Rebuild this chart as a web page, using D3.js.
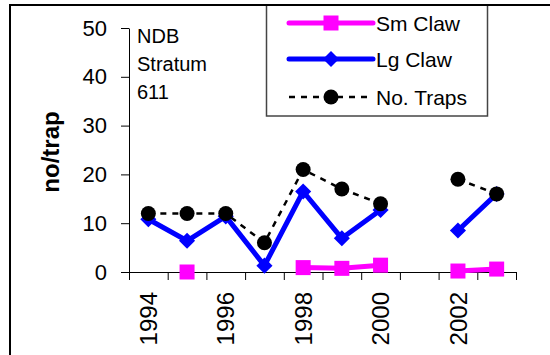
<!DOCTYPE html>
<html>
<head>
<meta charset="utf-8">
<script src="https://cdn.jsdelivr.net/npm/d3@7/dist/d3.min.js"></script>
<style>
  html, body { margin: 0; padding: 0; background: #fff; }
  svg { display: block; font-family: "Liberation Sans", Arial, sans-serif; }
</style>
</head>
<body>
<svg id="chart" width="550" height="355"></svg>
<script>
// Survey years and catch rates per trap (null = no survey that year)
const years    = [1994, 1995, 1996, 1997, 1998, 1999, 2000, 2001, 2002, 2003];
const smClaw   = [null, 0,    null, null, 0.9,  0.75, 1.4,  null, 0.2,  0.6];
const lgClaw   = [10.8, 6.4,  11.4, 1.3,  16.5, 6.9,  12.7, null, 8.5,  16];
const numTraps = [12,   12,   12,   6,    21,   17,   14,   null, 19,   16];
const yTicks   = [0, 10, 20, 30, 40, 50];
const xLabels  = [1994, 1996, 1998, 2000, 2002];
const seriesNames = ["Sm Claw", "Lg Claw", "No. Traps"];

const svg = d3.select("#chart");

const x = d3.scaleLinear().domain([years[0] - 0.5, years[years.length - 1] + 0.5]).range([129, 516]);
const y = d3.scaleLinear().domain([0, 50]).range([272, 28]);

// y axis
const yAxis = svg.append("g").attr("transform", "translate(129,0)")
  .call(d3.axisLeft(y).tickValues(yTicks).tickSize(8).tickPadding(14).tickSizeOuter(0));
yAxis.select(".domain").attr("stroke", "#000");
yAxis.selectAll("text").attr("font-size", 22).attr("font-family", "Liberation Sans, Arial, sans-serif");

// x axis: ticks on the year boundaries
const boundaries = d3.range(years[0] - 0.5, years[years.length - 1] + 1, 1);
const xAxis = svg.append("g").attr("transform", "translate(0,272)")
  .call(d3.axisBottom(x).tickValues(boundaries).tickFormat("").tickSize(8).tickSizeOuter(0));
xAxis.select(".domain").attr("stroke", "#000");

svg.append("g").selectAll("text").data(xLabels).join("text")
  .attr("transform", d => `translate(${x(d)},292) rotate(-90)`)
  .attr("text-anchor", "end").attr("dy", "0.36em")
  .attr("font-size", 24).text(d => d);

// y axis title
svg.append("text")
  .attr("transform", "translate(50,152) rotate(-90)")
  .attr("text-anchor", "middle").attr("dy", "0.36em")
  .attr("font-size", 24).attr("font-weight", "bold").text("no/trap");

// stratum note
svg.append("g").selectAll("text").data(["NDB", "Stratum", "611"]).join("text")
  .attr("x", 137).attr("y", (d, i) => 43 + i * 28)
  .attr("font-size", 20).text(d => d);

const line = vals => d3.line()
  .defined((d, i) => vals[i] !== null)
  .x((d, i) => x(years[i]))
  .y((d, i) => y(vals[i]))(vals);
const pts = vals => years.map((yr, i) => ({ yr, v: vals[i] })).filter(d => d.v !== null);

const diamond = d3.symbol().type(d3.symbolDiamond2).size(165);

// Sm Claw
svg.append("path").attr("d", line(smClaw))
  .attr("fill", "none").attr("stroke", "#ff00ff").attr("stroke-width", 5);
svg.append("g").selectAll("rect").data(pts(smClaw)).join("rect")
  .attr("x", d => x(d.yr) - 7.5).attr("y", d => y(d.v) - 7.5)
  .attr("width", 15).attr("height", 15).attr("fill", "#ff00ff");

// Lg Claw
svg.append("path").attr("d", line(lgClaw))
  .attr("fill", "none").attr("stroke", "#0000ff").attr("stroke-width", 5).attr("stroke-linejoin", "round");
svg.append("g").selectAll("path").data(pts(lgClaw)).join("path")
  .attr("transform", d => `translate(${x(d.yr)},${y(d.v)})`)
  .attr("d", diamond).attr("fill", "#0000ff");

// No. Traps
svg.append("path").attr("d", line(numTraps))
  .attr("fill", "none").attr("stroke", "#000").attr("stroke-width", 2.5).attr("stroke-dasharray", "6,6");
svg.append("g").selectAll("circle").data(pts(numTraps)).join("circle")
  .attr("cx", d => x(d.yr)).attr("cy", d => y(d.v)).attr("r", 7.5).attr("fill", "#000");

// legend
const lg = svg.append("g");
lg.append("rect").attr("x", 266.5).attr("y", 5).attr("width", 221).attr("height", 111)
  .attr("fill", "#fff").attr("stroke", "#444").attr("stroke-width", 1.5);
const rowY = [23, 59, 97];
const lx0 = 289, lx1 = 373, lmx = 331;
lg.append("line").attr("x1", lx0).attr("x2", lx1).attr("y1", rowY[0]).attr("y2", rowY[0])
  .attr("stroke", "#ff00ff").attr("stroke-width", 5).attr("stroke-linecap", "round");
lg.append("rect").attr("x", lmx - 7.5).attr("y", rowY[0] - 7.5).attr("width", 15).attr("height", 15).attr("fill", "#ff00ff");
lg.append("line").attr("x1", lx0).attr("x2", lx1).attr("y1", rowY[1]).attr("y2", rowY[1])
  .attr("stroke", "#0000ff").attr("stroke-width", 5).attr("stroke-linecap", "round");
lg.append("path").attr("transform", `translate(${lmx},${rowY[1]})`).attr("d", diamond).attr("fill", "#0000ff");
lg.append("line").attr("x1", lx0).attr("x2", lx1).attr("y1", rowY[2]).attr("y2", rowY[2])
  .attr("stroke", "#000").attr("stroke-width", 2.5).attr("stroke-dasharray", "6,6");
lg.append("circle").attr("cx", lmx).attr("cy", rowY[2]).attr("r", 7.5).attr("fill", "#000");
lg.selectAll("text.lbl").data(seriesNames).join("text").attr("class", "lbl")
  .attr("x", 376).attr("y", (d, i) => rowY[i]).attr("dy", "0.36em")
  .attr("font-size", 21).text(d => d);

// frame of the chart area, drawn over the legend's top edge
svg.append("path")
  .attr("d", "M10,355 V5 H550")
  .attr("fill", "none").attr("stroke", "#000").attr("stroke-width", 2);
</script>
</body>
</html>
